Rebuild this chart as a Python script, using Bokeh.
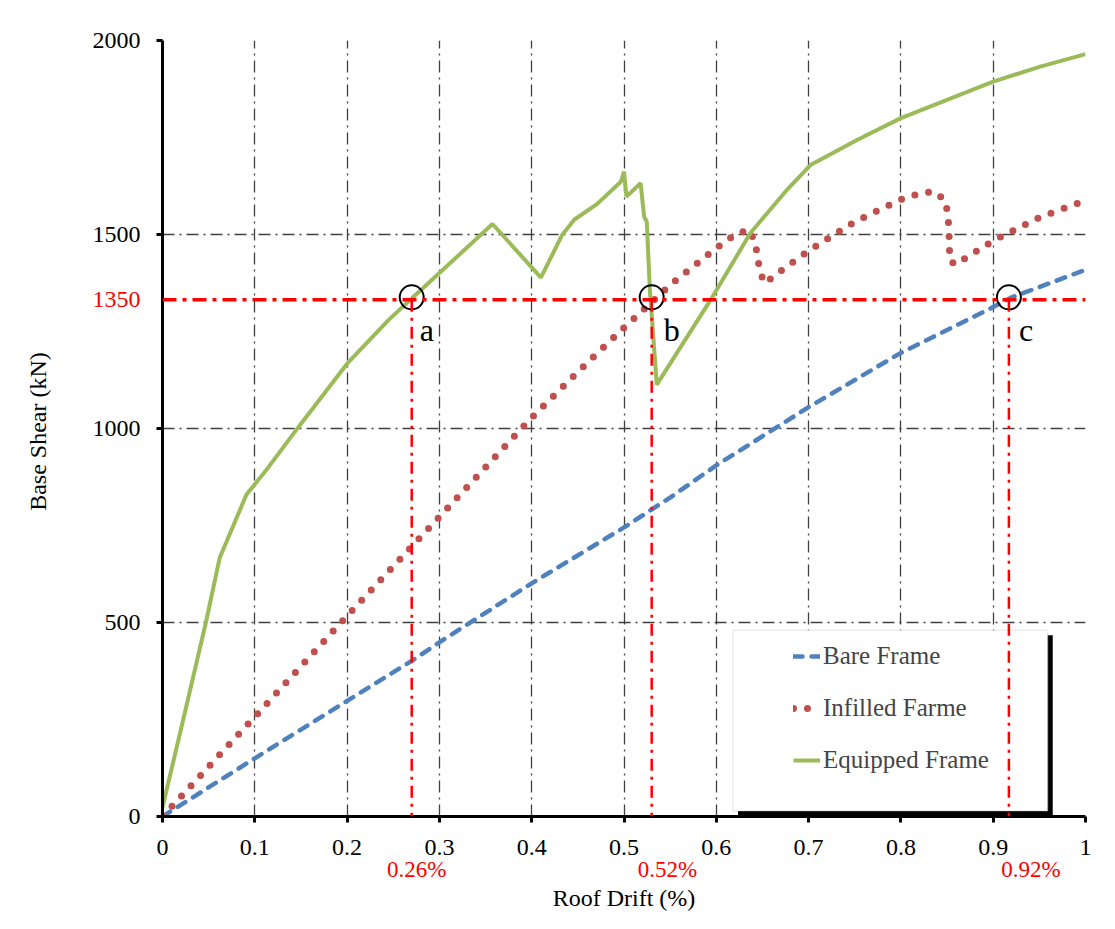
from bokeh.plotting import figure
from bokeh.models import (Range1d, FixedTicker, Legend, LegendItem, BoxAnnotation,
                          Arrow, Label, Span, LinearAxis)
from bokeh.embed import file_html
from bokeh.resources import INLINE

# ---------------- data ----------------
bare_x = [0, 0.1, 0.2, 0.27, 0.3, 0.4, 0.5, 0.55, 0.6, 0.7, 0.8, 0.9, 0.92, 1.0]
bare_y = [0, 150, 298, 401, 449, 601, 745, 822, 905, 1055, 1195, 1313, 1338, 1409]

infill_x = [0, 0.1, 0.2, 0.3, 0.4, 0.45, 0.5, 0.55, 0.6, 0.622, 0.636, 0.642, 0.645,
            0.647, 0.6526, 0.664, 0.7, 0.75, 0.8, 0.822, 0.837, 0.848, 0.851, 0.852,
            0.8525, 0.853, 0.859, 0.872, 0.9, 0.95, 1.0]
infill_y = [0, 257, 517, 772, 1028, 1146, 1260, 1370, 1465, 1503, 1512, 1479, 1441,
            1405, 1374, 1396, 1458, 1533, 1590, 1607, 1610, 1587, 1551, 1512,
            1473, 1433, 1422, 1442, 1484, 1544, 1588]

equip_x = [0, 0.02, 0.047, 0.062, 0.091, 0.1, 0.115, 0.148, 0.2, 0.245, 0.27, 0.3575,
           0.41, 0.433, 0.446, 0.471, 0.4966, 0.5, 0.5027, 0.518, 0.5218, 0.5247, 0.528,
           0.5355, 0.594, 0.637, 0.675, 0.702, 0.753, 0.8, 0.85, 0.9, 0.95, 1.0]
equip_y = [24, 225, 500, 667, 830, 856, 901, 1006, 1167, 1280, 1335, 1527,
           1389, 1499, 1538, 1579, 1636, 1662, 1598, 1632, 1546, 1533, 1358,
           1113, 1332, 1504, 1611, 1679, 1744, 1800, 1847, 1894, 1932, 1965]

series_names = ["Bare Frame", "Infilled Farme", "Equipped Frame"]

x_ticks = [0, 0.1, 0.2, 0.3, 0.4, 0.5, 0.6, 0.7, 0.8, 0.9, 1.0]
x_tick_labels = ["0", "0.1", "0.2", "0.3", "0.4", "0.5", "0.6", "0.7", "0.8", "0.9", "1"]
y_ticks = [0, 500, 1000, 1500, 2000]

level_label = "1350"
level_y = 1332                      # where the dashed level line sits in the picture
drift_x = [0.27, 0.53, 0.917]       # points a, b, c
drift_label_x = [0.2755, 0.547, 0.941]  # where the red % labels sit
drift_labels = ["0.26%", "0.52%", "0.92%"]
point_names = ["a", "b", "c"]

FONT = "Liberation Serif"
RED = "#FF0000"

W, H = 1099, 913
FRAME_W, FRAME_H = 923, 777
LEFT, TOP = 162, 40
X_MAX, Y_MAX = 1.0, 2000.0

p = figure(width=W, height=H, output_backend="svg", toolbar_location=None,
           x_range=Range1d(0, X_MAX), y_range=Range1d(0, Y_MAX),
           min_border_left=LEFT, min_border_right=W - LEFT - FRAME_W,
           min_border_top=TOP, min_border_bottom=H - TOP - FRAME_H,
           background_fill_color="white", border_fill_color="white")
p.outline_line_color = None

# main axes
for ax in (p.xaxis[0], p.yaxis[0]):
    ax.axis_line_width = 3
    ax.axis_line_color = "black"
    ax.major_tick_line_width = 3
    ax.major_tick_line_color = "black"
    ax.major_tick_in = 0
    ax.major_tick_out = 6
    ax.minor_tick_line_color = None
    ax.major_label_text_font = FONT
    ax.major_label_text_font_size = "24px"
    ax.major_label_text_color = "black"

p.xaxis.ticker = FixedTicker(ticks=x_ticks)
p.xaxis.major_label_overrides = dict(zip(x_ticks, x_tick_labels))
p.yaxis.ticker = FixedTicker(ticks=y_ticks)
p.xaxis.major_label_standoff = 17
p.yaxis.major_label_standoff = 16

# secondary axes carrying the red marker labels and the axis titles
ax_rx = LinearAxis(ticker=FixedTicker(ticks=drift_label_x),
                   major_label_overrides=dict(zip(drift_label_x, drift_labels)),
                   axis_line_color=None, major_tick_line_color=None,
                   minor_tick_line_color=None, major_tick_out=0, major_tick_in=0,
                   major_label_standoff=-1, major_label_text_color=RED,
                   major_label_text_font=FONT, major_label_text_font_size="23px",
                   axis_label="Roof Drift (%)", axis_label_standoff=0,
                   axis_label_text_font=FONT, axis_label_text_font_size="24px",
                   axis_label_text_font_style="normal", axis_label_text_color="black")
p.add_layout(ax_rx, "below")

ax_ry = LinearAxis(ticker=FixedTicker(ticks=[level_y]),
                   major_label_overrides={level_y: level_label},
                   axis_line_color=None, major_tick_line_color=None,
                   minor_tick_line_color=None, major_tick_out=0, major_tick_in=0,
                   major_label_standoff=-51, major_label_text_color=RED,
                   major_label_text_font=FONT, major_label_text_font_size="24px",
                   axis_label="Base  Shear (kN)", axis_label_standoff=39,
                   axis_label_text_font=FONT, axis_label_text_font_size="24px",
                   axis_label_text_font_style="normal", axis_label_text_color="black")
p.add_layout(ax_ry, "left")

for g in (p.xgrid[0], p.ygrid[0]):
    g.grid_line_color = "#404040"
    g.grid_line_width = 1.3
    g.grid_line_dash = "12 5 2 5"

# series
r_bare = p.line(bare_x, bare_y, line_color="#4F81BD", line_width=4.5,
                line_dash="9 9", line_cap="round")
r_inf = p.line(infill_x, infill_y, line_color="#C0504D", line_width=7,
               line_dash="0 14", line_cap="round")
r_eq = p.line(equip_x, equip_y, line_color="#9BBB59", line_width=4)

# legend box + shadow (data units)
p.add_layout(BoxAnnotation(left=0.6235, right=0.9645, bottom=1.5, top=467,
                           fill_color="black", fill_alpha=1, line_color=None))
p.add_layout(BoxAnnotation(left=0.618, right=0.959, bottom=14.4, top=480,
                           fill_color="white", fill_alpha=1, line_color="#BFBFBF",
                           line_width=1.5))
legend = Legend(items=[LegendItem(label=series_names[0], renderers=[r_bare]),
                       LegendItem(label=series_names[1], renderers=[r_inf]),
                       LegendItem(label=series_names[2], renderers=[r_eq])],
                location=(631, 36), padding=0, margin=0, spacing=12,
                glyph_width=27, glyph_height=40, label_height=40, label_standoff=3,
                label_text_font=FONT, label_text_font_size="25px",
                background_fill_alpha=0, border_line_color=None)
p.add_layout(legend)

# red level line and drift markers
p.add_layout(Span(location=level_y, dimension="width", line_color=RED, line_width=3.5,
                  line_dash="14 6 4 6"))
for xv in drift_x:
    p.add_layout(Arrow(end=None, x_start=xv, y_start=level_y, x_end=xv, y_end=0,
                       line_color=RED, line_width=2.5, line_dash="12 6 3 6"))

p.scatter(drift_x, [level_y + 6] * 3, marker="circle", size=24, fill_color=None,
          line_color="black", line_width=2)

name_dx = [8, 12, 10]
for xv, nm, ndx in zip(drift_x, point_names, name_dx):
    p.add_layout(Label(x=xv, y=level_y, x_offset=ndx, y_offset=-30, text=nm,
                       text_align="left", text_baseline="alphabetic",
                       text_color="black", text_font=FONT, text_font_size="32px"))

open("out.html", "w").write(file_html(p, INLINE))
